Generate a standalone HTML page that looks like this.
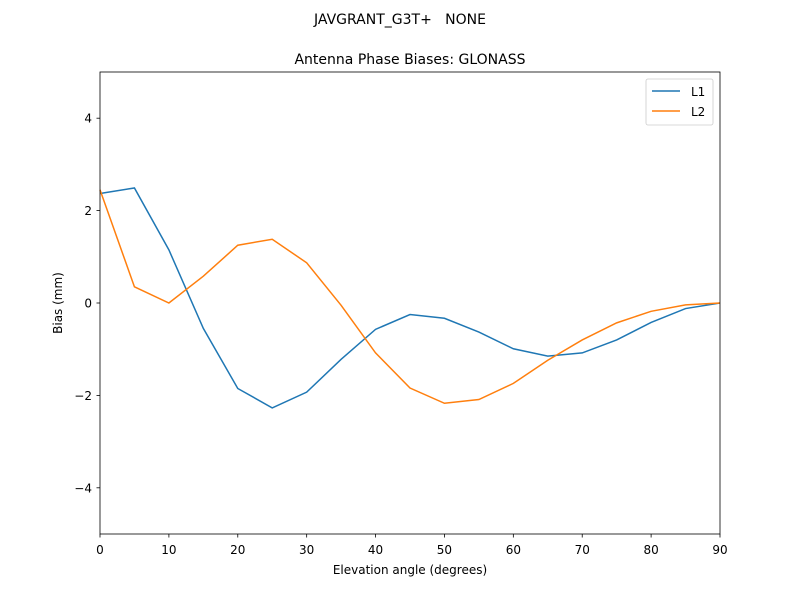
<!DOCTYPE html>
<html><head><meta charset="utf-8"><style>
body{margin:0;background:#fff}
svg{display:block;font-family:"DejaVu Sans","Liberation Sans",sans-serif}
</style></head><body>
<svg id="chart" width="800" height="600">
<rect width="800" height="600" fill="#fff"/>
<text x="400" y="24" text-anchor="middle" font-size="14" style="white-space:pre">JAVGRANT_G3T+   NONE</text>
<text x="410" y="64" text-anchor="middle" font-size="14">Antenna Phase Biases: GLONASS</text>
<g id="ticks"></g>
<g id="series"></g>
<rect x="100" y="72" width="620" height="462" fill="none" stroke="#000" stroke-width="0.8"/>
<text x="410" y="574" text-anchor="middle" font-size="12">Elevation angle (degrees)</text>
<text x="0" y="0" transform="translate(62,303) rotate(-90)" text-anchor="middle" font-size="12">Bias (mm)</text>
<g>
<rect x="646" y="79" width="67" height="46" rx="2" fill="#fff" stroke="#ccc" stroke-width="0.8"/>
<line x1="652" y1="91" x2="680" y2="91" stroke="#1f77b4" stroke-width="1.5"/>
<text x="691" y="96" font-size="12">L1</text>
<line x1="652" y1="111" x2="680" y2="111" stroke="#ff7f0e" stroke-width="1.5"/>
<text x="691" y="116" font-size="12">L2</text>
</g>
</svg>
<script>
const elevations=[0,5,10,15,20,25,30,35,40,45,50,55,60,65,70,75,80,85,90];
const l1Values=[2.37,2.49,1.15,-0.55,-1.85,-2.27,-1.93,-1.22,-0.57,-0.25,-0.33,-0.63,-0.99,-1.15,-1.08,-0.80,-0.42,-0.12,0];
const l2Values=[2.45,0.35,0,0.58,1.25,1.38,0.87,-0.05,-1.08,-1.84,-2.17,-2.09,-1.74,-1.24,-0.80,-0.43,-0.18,-0.04,0];
const xTicks=[0,10,20,30,40,50,60,70,80,90];
const yTicks=[-4,-2,0,2,4];
const yTickLabels=["\u22124","\u22122","0","2","4"];
const NS="http://www.w3.org/2000/svg";
const xs=v=>100+v/90*620;
const ys=v=>303-v*46.2;
const tg=document.getElementById('ticks');
xTicks.forEach(t=>{
 const l=document.createElementNS(NS,'line');
 l.setAttribute('x1',xs(t));l.setAttribute('x2',xs(t));l.setAttribute('y1',534);l.setAttribute('y2',537.5);l.setAttribute('stroke','#000');l.setAttribute('stroke-width','0.8');
 
 
 tg.appendChild(l);
 const tx=document.createElementNS(NS,'text');
 tx.setAttribute('x',xs(t));tx.setAttribute('y',554);tx.setAttribute('text-anchor','middle');tx.setAttribute('font-size','12');tx.textContent=t;
 
 
 tg.appendChild(tx);
});
yTicks.forEach((t,i)=>{
 const l=document.createElementNS(NS,'line');
 l.setAttribute('x1',96.5);l.setAttribute('x2',100);l.setAttribute('y1',ys(t));l.setAttribute('y2',ys(t));l.setAttribute('stroke','#000');l.setAttribute('stroke-width','0.8');
 
 
 tg.appendChild(l);
 const tx=document.createElementNS(NS,'text');
 tx.setAttribute('x',92);tx.setAttribute('y',ys(t)+4.5);tx.setAttribute('text-anchor','end');tx.setAttribute('font-size','12');tx.textContent=yTickLabels[i];
 
 
 tg.appendChild(tx);
});
const sg=document.getElementById('series');
function line(vals,color,name){
 const p=document.createElementNS(NS,'polyline');
 p.setAttribute('points',vals.map((v,i)=>xs(elevations[i])+','+ys(v)).join(' '));
 p.setAttribute('fill','none');p.setAttribute('stroke',color);p.setAttribute('stroke-width','1.5');
 
 
 sg.appendChild(p);
}
line(l1Values,'#1f77b4','l1-line');
line(l2Values,'#ff7f0e','l2-line');
</script>
</body></html>
